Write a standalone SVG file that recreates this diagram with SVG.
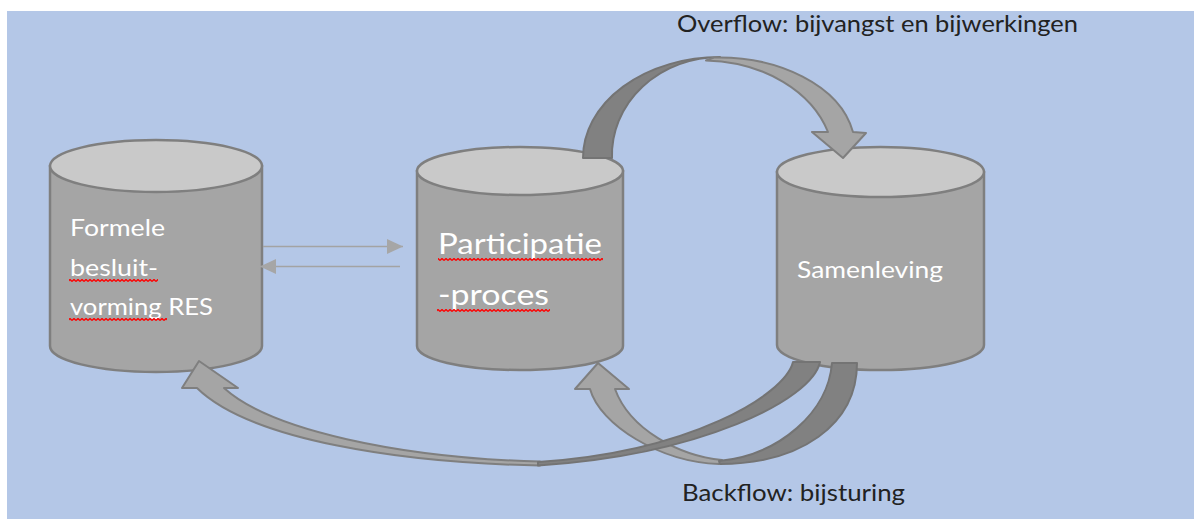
<svg xmlns="http://www.w3.org/2000/svg" width="1194" height="520" viewBox="0 0 1194 520">
  <style>
    .bg { fill: #B4C7E7; }
    .cyl-body { fill: #A5A5A5; stroke: #7F7F7F; stroke-width: 2.5; }
    .cyl-top { fill: #C9C9C9; stroke: #7F7F7F; stroke-width: 2.5; }
    .cyl-text { font-family: Lato, "Open Sans", "Liberation Sans", sans-serif; fill: #FFFFFF; }
    .label { font-family: Lato, "Open Sans", "Liberation Sans", sans-serif; font-size: 23px; fill: #222222; }
    .thin { stroke: #A3A3A3; stroke-width: 1.3; fill: none; }
    .band-dark { fill: #818181; stroke: #747474; stroke-width: 2; stroke-linejoin: round; }
    .band-light { fill: #A5A5A5; stroke: #7F7F7F; stroke-width: 2; stroke-linejoin: round; }
    .squiggle { fill: url(#squig); }
  </style>
  <defs>
    <marker id="ah" markerUnits="userSpaceOnUse" markerWidth="16" markerHeight="15" refX="16" refY="7.5" orient="auto">
      <path d="M0,0 L16,7.5 L0,15 Z" fill="#A6A6A6"/>
    </marker>
    <pattern id="squig" patternUnits="userSpaceOnUse" x="0" y="0" width="4" height="3">
      <path d="M0,2.5 L2,0.5 L4,2.5" fill="none" stroke="#FF0000" stroke-width="1.4"/>
    </pattern>
  </defs>

  <rect class="bg" x="7" y="11" width="1187" height="508"/>

  <g id="node-formele">
    <path class="cyl-body" d="M50,166 L50,346 A106,26 0 0 0 262,346 L262,166 Z"/>
    <ellipse class="cyl-top" cx="156" cy="166" rx="106" ry="26"/>
    <text class="cyl-text" font-size="23" x="70" y="236" textLength="95" lengthAdjust="spacingAndGlyphs">Formele</text>
    <text class="cyl-text" font-size="23" x="70" y="276" textLength="88" lengthAdjust="spacingAndGlyphs">besluit-</text>
    <text class="cyl-text" font-size="23" x="70" y="315" textLength="143" lengthAdjust="spacingAndGlyphs">vorming RES</text>
    <rect class="squiggle" x="69" y="279" width="89" height="3"/>
    <rect class="squiggle" x="69" y="318" width="98" height="3"/>
  </g>

  <g id="node-participatie">
    <path class="cyl-body" d="M417,171 L417,346 A103,24 0 0 0 623,346 L623,171 Z"/>
    <ellipse class="cyl-top" cx="520" cy="171" rx="103" ry="24"/>
    <text class="cyl-text" font-size="28" x="438" y="254" textLength="164" lengthAdjust="spacingAndGlyphs">Participatie</text>
    <text class="cyl-text" font-size="28" x="438" y="305" textLength="111" lengthAdjust="spacingAndGlyphs">-proces</text>
    <rect class="squiggle" x="438" y="258" width="165" height="3"/>
    <rect class="squiggle" x="437" y="309" width="113" height="3"/>
  </g>

  <g id="node-samenleving">
    <path class="cyl-body" d="M777,172 L777,345 A103.5,25 0 0 0 984,345 L984,172 Z"/>
    <ellipse class="cyl-top" cx="880.5" cy="172" rx="103.5" ry="25"/>
    <text class="cyl-text" font-size="22.5" x="797" y="278" textLength="146" lengthAdjust="spacingAndGlyphs">Samenleving</text>
  </g>

  <g id="connectors">
    <line class="thin" x1="263" y1="246.5" x2="403" y2="246.5" marker-end="url(#ah)"/>
    <line class="thin" x1="400" y1="266.5" x2="260" y2="266.5" marker-end="url(#ah)"/>

    <g id="overflow-arrow">
      <path class="band-dark" d="M583,158 A137,101 0 0 1 720,57 A108,98 0 0 0 612,158 Z"/>
      <path class="band-light" d="M714,57.5 C778,56 840,85 853,132 L866,133 L843,158 L812,132 L828,132 C812,92 765,62 706,60.5 Z"/>
    </g>

    <g id="backflow-arrow-2">
      <path class="band-light" d="M719,464 C660,462 600,425 590,389 L575,389 L598,363 L629,389 L615,389 C630,430 680,456 722,460 Z"/>
      <path class="band-dark" d="M720,464 C800,464 857,425 857,363 L832,363 C828,412 780,455 719,461 Z"/>
    </g>

    <g id="backflow-arrow-1">
      <path class="band-light" d="M540,465.5 C400,463 250,440 197,388 L182,388 L199,361 L238,388 L224,388 C270,430 400,458 540,461.5 Z"/>
      <path class="band-dark" d="M538,465.5 C700,455 812,400 820,362 L793,362 C785,395 690,452 538,462 Z"/>
    </g>
  </g>

  <text class="label" x="677" y="32" textLength="401" lengthAdjust="spacingAndGlyphs">Overflow: bijvangst en bijwerkingen</text>
  <text class="label" x="682" y="501" textLength="223" lengthAdjust="spacingAndGlyphs">Backflow: bijsturing</text>
</svg>
